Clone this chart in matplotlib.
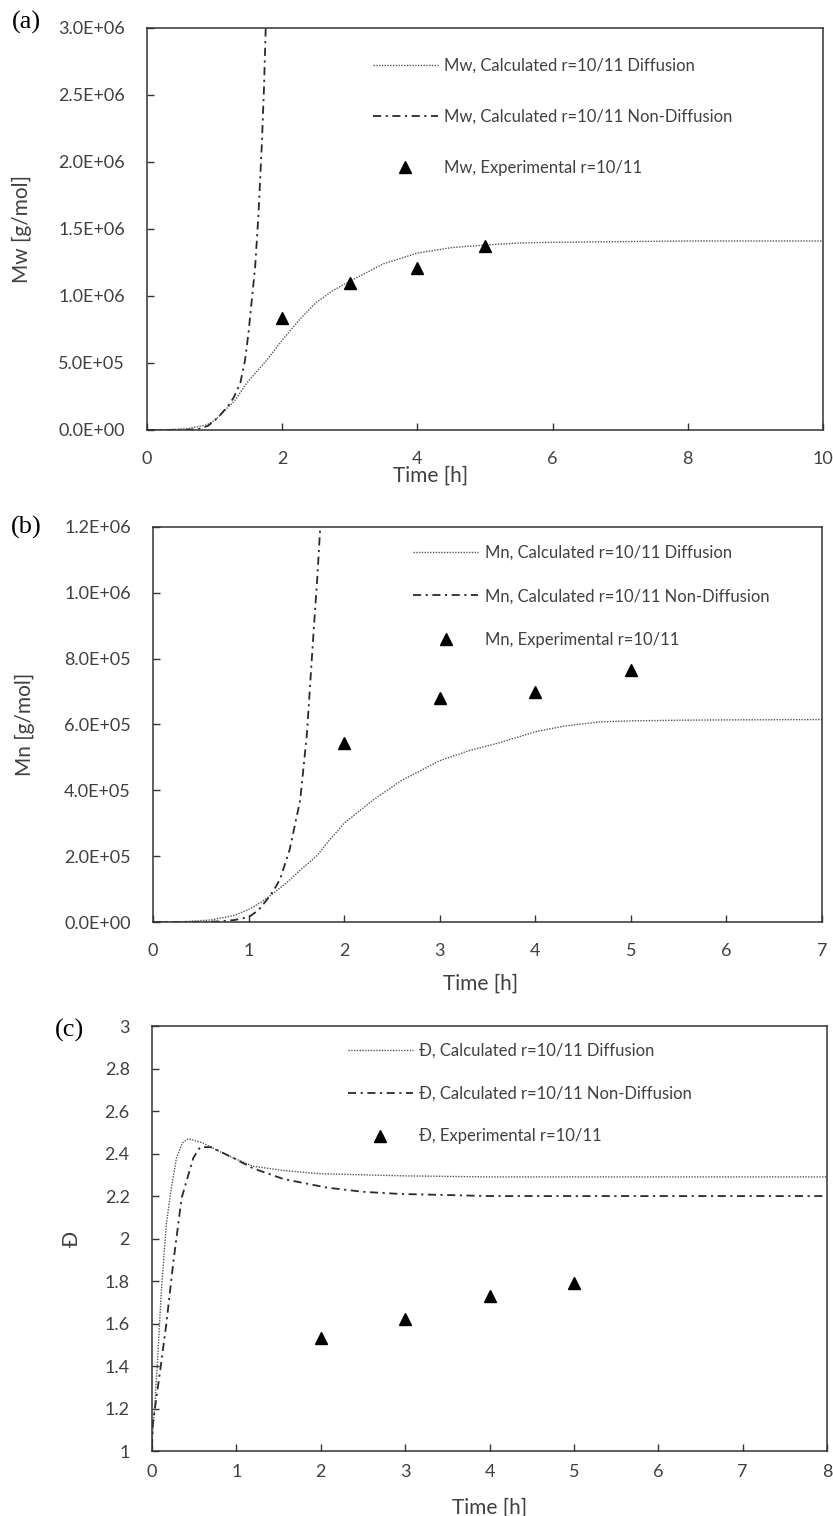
import matplotlib
matplotlib.use("Agg")
import matplotlib.pyplot as plt
import numpy as np
from matplotlib.ticker import FuncFormatter

plt.rcParams['font.family'] = ['Lato', 'DejaVu Sans']

# (a) Mw
t_mw_diff = [0, 0.3, 0.6, 0.88, 1.0, 1.18, 1.3, 1.475, 1.77, 2.0, 2.25, 2.5, 2.75, 3.0,
             3.5, 4.0, 4.5, 5.0, 5.5, 6.0, 7.0, 8.0, 10.0]
mw_diff = [0, 0.002, 0.01, 0.037, 0.07, 0.16, 0.22, 0.35, 0.52, 0.67, 0.82, 0.95, 1.04, 1.11,
           1.24, 1.32, 1.36, 1.38, 1.395, 1.40, 1.405, 1.41, 1.41]
t_mw_nodiff = [0, 0.5, 0.75, 0.9, 1.0, 1.08, 1.2, 1.28, 1.38, 1.45, 1.5, 1.55, 1.6, 1.65,
               1.7, 1.73, 1.756]
mw_nodiff = [0, 0, 0.005, 0.03, 0.07, 0.11, 0.18, 0.24, 0.35, 0.52, 0.72, 0.97, 1.22, 1.62,
             2.15, 2.55, 3.0]
t_exp = [2, 3, 4, 5]
mw_exp = [0.836, 1.10, 1.21, 1.37]

# (b) Mn
t_mn_diff = [0, 0.3, 0.6, 0.85, 1.0, 1.12, 1.25, 1.4, 1.55, 1.71, 1.85, 2.0, 2.3, 2.6, 3.0,
             3.3, 3.63, 4.0, 4.3, 4.68, 5.0, 5.5, 6.0, 7.0]
mn_diff = [0, 0.001, 0.006, 0.02, 0.038, 0.058, 0.085, 0.12, 0.16, 0.20, 0.25, 0.30, 0.37,
           0.43, 0.49, 0.52, 0.545, 0.578, 0.595, 0.608, 0.611, 0.613, 0.614, 0.615]
t_mn_nodiff = [0, 0.5, 0.7, 0.85, 1.0, 1.1, 1.19, 1.26, 1.33, 1.43, 1.54, 1.61, 1.68, 1.72, 1.75]
mn_nodiff = [0, 0, 0.002, 0.006, 0.015, 0.035, 0.067, 0.095, 0.13, 0.22, 0.37, 0.57, 0.88,
             1.05, 1.2]
mn_exp = [0.544, 0.68, 0.70, 0.765]

# (c) dispersity
t_d_diff = [0, 0.03, 0.06, 0.11, 0.17, 0.23, 0.29, 0.36, 0.43, 0.6, 0.8, 0.96, 1.2, 1.56,
            2.0, 2.5, 3, 4, 5, 6, 7, 8]
d_diff = [1.05, 1.2, 1.39, 1.75, 2.07, 2.24, 2.38, 2.45, 2.47, 2.45, 2.41, 2.38, 2.34, 2.32,
          2.305, 2.30, 2.295, 2.29, 2.29, 2.29, 2.29, 2.29]
t_d_nodiff = [0, 0.01, 0.09, 0.17, 0.25, 0.35, 0.49, 0.57, 0.7, 0.96, 1.2, 1.56, 2.07, 2.5,
              2.94, 4, 5, 6, 7, 8]
d_nodiff = [1.02, 1.13, 1.36, 1.6, 1.88, 2.19, 2.38, 2.43, 2.43, 2.38, 2.33, 2.28, 2.24,
            2.22, 2.21, 2.20, 2.20, 2.20, 2.20, 2.20]
d_exp = [1.533, 1.62, 1.73, 1.79]

TXT = '#404040'
fig = plt.figure(figsize=(8.33, 15.16), dpi=100)

ax_a = fig.add_axes([0.1765, 0.7164, 0.8115, 0.2652])
ax_b = fig.add_axes([0.1837, 0.3918, 0.8030, 0.2606])
ax_c = fig.add_axes([0.1825, 0.0428, 0.8103, 0.2804])

dot = dict(color='#555555', lw=1.0, ls=(0, (1, 1)))
dash = dict(color='#2a2a2a', lw=1.3, ls=(0, (4.5, 2.5, 1.2, 2.5)))
tri = dict(ls='none', marker='^', color='black', ms=9)

# (a)
ax_a.plot(t_mw_diff, np.array(mw_diff) * 1e6, label='Mw, Calculated r=10/11 Diffusion', **dot)
ax_a.plot(t_mw_nodiff, np.array(mw_nodiff) * 1e6, label='Mw, Calculated r=10/11 Non-Diffusion', **dash)
ax_a.plot(t_exp, np.array(mw_exp) * 1e6, label='Mw, Experimental r=10/11', **tri)
ax_a.set_xlim(0, 10)
ax_a.set_ylim(0, 3e6)
ax_a.set_xticks(range(0, 11, 2))
ax_a.set_yticks(np.arange(0, 3.01e6, 0.5e6))
ax_a.set_ylabel('Mw [g/mol]')
ax_a.yaxis.set_label_coords(-0.170, 0.5)
ax_a.set_xlabel('Time [h]')
ax_a.xaxis.set_label_coords(0.42, -0.09)

# (b)
ax_b.plot(t_mn_diff, np.array(mn_diff) * 1e6, label='Mn, Calculated r=10/11 Diffusion', **dot)
ax_b.plot(t_mn_nodiff, np.array(mn_nodiff) * 1e6, label='Mn, Calculated r=10/11 Non-Diffusion', **dash)
ax_b.plot(t_exp, np.array(mn_exp) * 1e6, label='Mn, Experimental r=10/11', **tri)
ax_b.set_xlim(0, 7)
ax_b.set_ylim(0, 1.2e6)
ax_b.set_xticks(range(0, 8))
ax_b.set_yticks(np.arange(0, 1.21e6, 0.2e6))
ax_b.set_ylabel('Mn [g/mol]')
ax_b.yaxis.set_label_coords(-0.176, 0.5)
ax_b.set_xlabel('Time [h]')
ax_b.xaxis.set_label_coords(0.49, -0.13)

# (c)
ax_c.plot(t_d_diff, d_diff, label='Đ, Calculated r=10/11 Diffusion', **dot)
ax_c.plot(t_d_nodiff, d_nodiff, label='Đ, Calculated r=10/11 Non-Diffusion', **dash)
ax_c.plot(t_exp, d_exp, label='Đ, Experimental r=10/11', **tri)
ax_c.set_xlim(0, 8)
ax_c.set_ylim(1, 3)
ax_c.set_xticks(range(0, 9))
ax_c.set_yticks(np.arange(1, 3.01, 0.2))
ax_c.set_ylabel('Đ')
ax_c.yaxis.set_label_coords(-0.104, 0.5)
ax_c.set_xlabel('Time [h]')
ax_c.xaxis.set_label_coords(0.5, -0.11)

sci = FuncFormatter(lambda v, p: f'{v:.1E}')
gen = FuncFormatter(lambda v, p: f'{round(v, 1):g}')
ax_a.yaxis.set_major_formatter(sci)
ax_b.yaxis.set_major_formatter(sci)
ax_c.yaxis.set_major_formatter(gen)

legpos = {ax_a: (0.334, 0.925, 2.1), ax_b: (0.389, 0.955, 1.65), ax_c: (0.29, 0.96, 1.6)}
for ax in (ax_a, ax_b, ax_c):
    for s in ax.spines.values():
        s.set_color('#333333')
        s.set_linewidth(1.1)
    ax.tick_params(direction='in', length=5, width=1, color='#333333',
                   labelcolor=TXT, labelsize=13)
    ax.tick_params(axis='y', pad=16)
    ax.xaxis.label.set_color(TXT)
    ax.yaxis.label.set_color(TXT)
    ax.xaxis.label.set_fontsize(15)
    ax.yaxis.label.set_fontsize(15)
    x0, y0, sp = legpos[ax]
    leg = ax.legend(loc='upper left', bbox_to_anchor=(x0, y0), frameon=False,
                    fontsize=12, borderpad=0, borderaxespad=0, handlelength=3.9,
                    handletextpad=0.4, labelspacing=sp, labelcolor=TXT)

ax_a.tick_params(axis='x', pad=15)
ax_b.tick_params(axis='x', pad=15)
ax_c.tick_params(axis='x', pad=9)

for lab, x, y in [('(a)', 26, 22), ('(b)', 26, 527), ('(c)', 70, 1030)]:
    fig.text(x / 833, 1 - y / 1516, lab, family='Liberation Serif', fontsize=19,
             ha='center', va='center', color='black')

fig.savefig('out.png', dpi=100)
